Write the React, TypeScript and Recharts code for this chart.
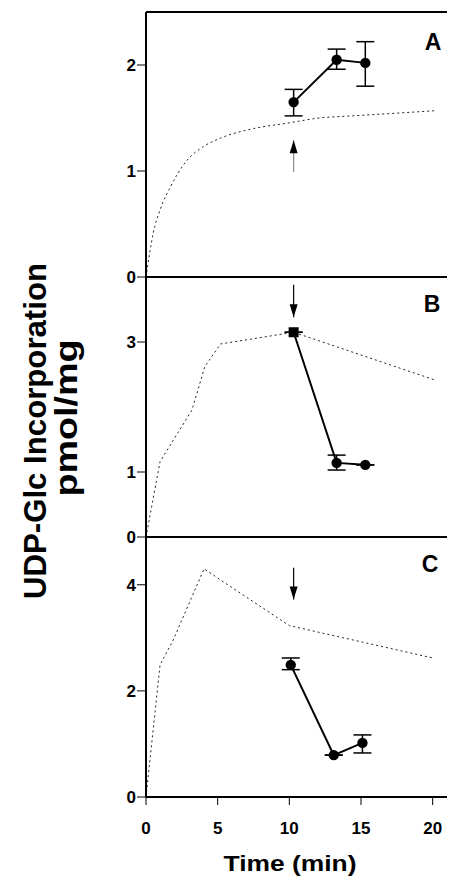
import React from 'react';
import {
  LineChart,
  Line,
  XAxis,
  YAxis,
  ErrorBar,
  ReferenceLine,
  ReferenceDot,
} from 'recharts';

const FONT = '"Liberation Sans", Arial, Helvetica, sans-serif';

const TIME_TICKS = [0, 5, 10, 15, 20];

// Panel A - control time course (dotted) + chase points
const A_CURVE_T = [0, 0.25, 0.5, 1, 1.7, 2.8, 4, 5.2, 7.5, 9.8, 12.1, 14.4, 16.8, 20.3];
const A_CURVE_V = [0, 0.22, 0.41, 0.64, 0.85, 1.09, 1.23, 1.31, 1.4, 1.45, 1.5, 1.52, 1.54, 1.57];
const A_T = [10.3, 13.3, 15.3];
const A_V = [1.65, 2.05, 2.02];
const A_ERR = [[0.13, 0.12], [0.09, 0.1], [0.22, 0.2]];
const A_SHAPE = ['circle', 'circle', 'circle'];
const A_Y_TICKS = [0, 1, 2];

// Panel B
const B_CURVE_T = [0, 0.98, 3.2, 4.1, 5.2, 10.3, 20.1];
const B_CURVE_V = [0, 1.16, 1.95, 2.62, 2.97, 3.15, 2.42];
const B_T = [10.3, 13.3, 15.3];
const B_V = [3.15, 1.14, 1.11];
const B_ERR = [[0, 0], [0.11, 0.12], [0, 0]];
const B_SHAPE = ['square', 'circle', 'circle'];
const B_Y_TICKS = [0, 1, 3];

// Panel C
const C_CURVE_T = [0, 0.98, 1.9, 4.05, 5.2, 10.0, 20.0];
const C_CURVE_V = [0, 2.49, 2.96, 4.3, 4.09, 3.23, 2.62];
const C_T = [10.1, 13.1, 15.1];
const C_V = [2.49, 0.79, 1.02];
const C_ERR = [[0.09, 0.13], [0, 0], [0.19, 0.15]];
const C_SHAPE = ['circle', 'circle', 'circle'];
const C_Y_TICKS = [0, 2, 4];

// arrows: x, stem start, tip
const A_ARROW = { x: 10.3, from: 0.99, tip: 1.29, up: true, color: '#8a8a8a' };
const B_ARROW = { x: 10.3, from: 3.88, tip: 3.38, up: false, color: '#000' };
const C_ARROW = { x: 10.3, from: 4.32, tip: 3.72, up: false, color: '#000' };

const toPoints = (ts: number[], vs: number[]) => ts.map((t, i) => ({ t, v: vs[i] }));
const toExp = (ts: number[], vs: number[], errs: number[][], shapes: string[]) =>
  ts.map((t, i) => ({ t, v: vs[i], err: errs[i], shape: shapes[i] }));

const MarkerDot = (props: any) => {
  const { cx, cy, payload, index } = props;
  if (cx == null || cy == null) return null;
  if (payload.shape === 'square') {
    return <rect key={`d-${index}`} x={cx - 5} y={cy - 5} width={10} height={10} fill="#000" />;
  }
  return <circle key={`d-${index}`} cx={cx} cy={cy} r={5.2} fill="#000" />;
};

const ArrowHead = (up: boolean) => (props: any) => {
  const { cx, cy } = props;
  const h = 13;
  const w = 4;
  const pts = up
    ? `${cx},${cy} ${cx - w},${cy + h} ${cx + w},${cy + h}`
    : `${cx},${cy} ${cx - w},${cy - h} ${cx + w},${cy - h}`;
  return <polygon points={pts} fill="#000" />;
};

interface PanelProps {
  top: number;
  height: number;
  yMax: number;
  yTicks: number[];
  curve: { t: number; v: number }[];
  curveType: 'monotone' | 'linear';
  exp: any[];
  arrow: { x: number; from: number; tip: number; up: boolean; color: string };
  bottomAxis: boolean;
  topBorder: boolean;
}

const Panel = ({ top, height, yMax, yTicks, curve, curveType, exp, arrow, bottomAxis, topBorder }: PanelProps) => (
  <div style={{ position: 'absolute', left: 0, top, width: 450, height }}>
    <LineChart
      width={450}
      height={height}
      margin={{ top: 12, right: 3, bottom: bottomAxis ? 0 : 12, left: 116 }}
    >
      <XAxis
        dataKey="t"
        type="number"
        domain={[0, 21]}
        ticks={TIME_TICKS}
        allowDataOverflow
        height={bottomAxis ? 88 : 1}
        axisLine={{ stroke: '#000', strokeWidth: 2 }}
        tick={bottomAxis ? { fill: '#000', fontSize: 17, fontWeight: 700, fontFamily: FONT } : false}
        tickLine={bottomAxis ? { stroke: '#000', strokeWidth: 1 } : false}
        tickSize={8}
        tickMargin={17}
      />
      <YAxis
        type="number"
        domain={[0, yMax]}
        ticks={yTicks}
        allowDataOverflow
        width={30}
        axisLine={{ stroke: '#000', strokeWidth: 2 }}
        tick={{ fill: '#000', fontSize: 17, fontWeight: 700, fontFamily: FONT }}
        tickLine={{ stroke: '#000', strokeWidth: 1 }}
        tickSize={9}
        tickMargin={1}
      />
      {topBorder && <ReferenceLine y={yMax} stroke="#000" strokeWidth={2} />}
      <ReferenceLine
        segment={[
          { x: arrow.x, y: arrow.from },
          { x: arrow.x, y: arrow.tip },
        ]}
        stroke={arrow.color}
        strokeWidth={1.2}
      />
      <ReferenceDot x={arrow.x} y={arrow.tip} r={0} shape={ArrowHead(arrow.up)} />
      <Line
        data={curve}
        dataKey="v"
        type={curveType}
        stroke="#222"
        strokeWidth={1}
        strokeDasharray="2 3"
        dot={false}
        isAnimationActive={false}
      />
      <Line
        data={exp}
        dataKey="v"
        type="linear"
        stroke="#000"
        strokeWidth={2}
        dot={MarkerDot}
        activeDot={false}
        isAnimationActive={false}
      >
        <ErrorBar dataKey="err" width={9} stroke="#000" strokeWidth={1.5} direction="y" isAnimationActive={false} />
      </Line>
    </LineChart>
  </div>
);

const App = () => (
  <div style={{ position: 'absolute', left: 0, top: 0, width: 450, height: 885, background: '#fff' }}>
    <Panel
      top={0}
      height={290}
      yMax={2.5}
      yTicks={A_Y_TICKS}
      curve={toPoints(A_CURVE_T, A_CURVE_V)}
      curveType="monotone"
      exp={toExp(A_T, A_V, A_ERR, A_SHAPE)}
      arrow={A_ARROW}
      bottomAxis={false}
      topBorder
    />
    <Panel
      top={265}
      height={285}
      yMax={4}
      yTicks={B_Y_TICKS}
      curve={toPoints(B_CURVE_T, B_CURVE_V)}
      curveType="linear"
      exp={toExp(B_T, B_V, B_ERR, B_SHAPE)}
      arrow={B_ARROW}
      bottomAxis={false}
      topBorder={false}
    />
    <Panel
      top={525}
      height={360}
      yMax={4.9}
      yTicks={C_Y_TICKS}
      curve={toPoints(C_CURVE_T, C_CURVE_V)}
      curveType="linear"
      exp={toExp(C_T, C_V, C_ERR, C_SHAPE)}
      arrow={C_ARROW}
      bottomAxis
      topBorder={false}
    />
    <svg
      width={450}
      height={885}
      style={{ position: 'absolute', left: 0, top: 0, pointerEvents: 'none' }}
      fontFamily={FONT}
      fontWeight={700}
    >
      <text x={433} y={50} fontSize={23} textAnchor="middle">A</text>
      <text x={432} y={312} fontSize={23} textAnchor="middle">B</text>
      <text x={430} y={572} fontSize={23} textAnchor="middle">C</text>
      <text
        transform="translate(46,431) rotate(-90)"
        fontSize={32}
        textAnchor="middle"
        textLength={336}
        lengthAdjust="spacingAndGlyphs"
      >
        UDP-Glc Incorporation
      </text>
      <text
        transform="translate(77,418) rotate(-90)"
        fontSize={32}
        textAnchor="middle"
        textLength={157}
        lengthAdjust="spacingAndGlyphs"
      >
        pmol/mg
      </text>
      <text x={290} y={871} fontSize={22} textAnchor="middle" textLength={133} lengthAdjust="spacingAndGlyphs">
        Time (min)
      </text>
    </svg>
  </div>
);

export default App;
